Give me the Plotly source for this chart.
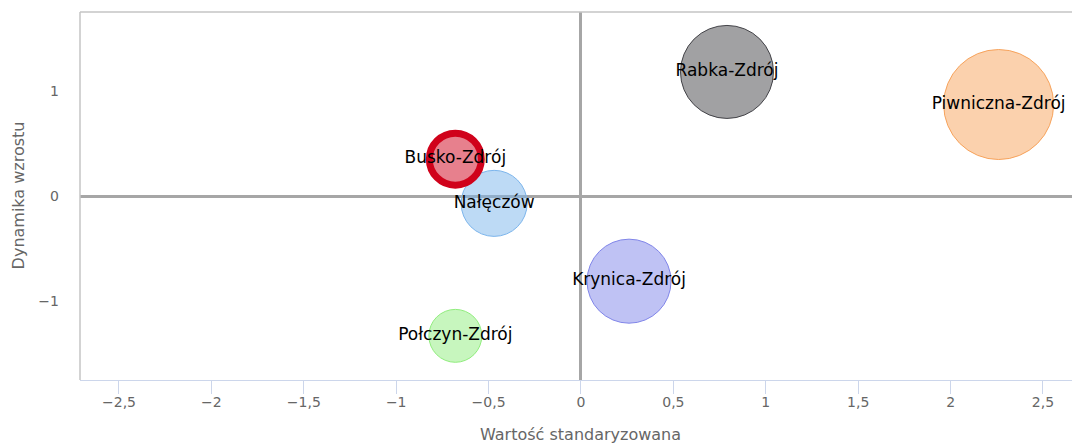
import plotly.graph_objects as go

# Uzdrowiska: wartość standaryzowana vs dynamika wzrostu, wielkość bąbla = wskaźnik skali
miejscowosci = ["Nałęczów", "Rabka-Zdrój", "Połczyn-Zdrój", "Piwniczna-Zdrój", "Krynica-Zdrój", "Busko-Zdrój"]
wartosc_std = [-0.47, 0.79, -0.68, 2.26, 0.26, -0.68]
dynamika = [-0.07, 1.18, -1.33, 0.87, -0.81, 0.35]
wielkosc = [43.6, 86.5, 28.0, 121.0, 70.6, 27.0]

x_ticks = [-2.5, -2, -1.5, -1, -0.5, 0, 0.5, 1, 1.5, 2, 2.5]
y_ticks = [-1, 0, 1]

# Palette: base colour per bubble (fill drawn at 50% opacity)
base_colors = ["#7cb5ec", "#434348", "#90ed7d", "#f7a35c", "#8085e9", "#d0021b"]
line_widths = [1, 1, 1, 1, 1, 7]


def rgba(hex_color, alpha):
    h = hex_color.lstrip("#")
    r, g, b = int(h[0:2], 16), int(h[2:4], 16), int(h[4:6], 16)
    return f"rgba({r},{g},{b},{alpha})"


FONT = "DejaVu Sans, Verdana, sans-serif"

fig = go.Figure()
fig.add_trace(go.Scatter(
    x=wartosc_std,
    y=dynamika,
    mode="markers+text",
    text=miejscowosci,
    textposition="middle center",
    textfont=dict(family=FONT, size=17, color="#000000"),
    marker=dict(
        size=wielkosc,
        sizemode="area",
        sizeref=0.02,
        color=[rgba(c, 0.5) for c in base_colors],
        line=dict(color=base_colors, width=line_widths),
        opacity=1,
    ),
    hoverinfo="text",
    showlegend=False,
))

fig.update_layout(
    width=1072,
    height=445,
    margin=dict(l=80, r=0, t=12, b=65),
    paper_bgcolor="#ffffff",
    plot_bgcolor="#ffffff",
    separators=", ",
    font=dict(family=FONT, color="#666666"),
    xaxis=dict(
        range=[-2.711, 2.657],
        tickvals=x_ticks,
        showgrid=False,
        zeroline=True,
        zerolinecolor="#a6a6a6",
        zerolinewidth=3,
        showline=True,
        linecolor="#ccd6eb",
        linewidth=1,
        ticks="outside",
        ticklen=13,
        tickcolor="#ccd6eb",
        tickwidth=1,
        ticklabelstandoff=-4,
        tickfont=dict(family=FONT, size=14, color="#666666"),
        fixedrange=True,
    ),
    yaxis=dict(
        range=[-1.75, 1.75],
        tickvals=y_ticks,
        showgrid=False,
        zeroline=True,
        zerolinecolor="#a6a6a6",
        zerolinewidth=3,
        showline=False,
        ticks="",
        ticklabelstandoff=20,
        tickfont=dict(family=FONT, size=14, color="#666666"),
        fixedrange=True,
    ),
    shapes=[
        dict(type="line", xref="paper", yref="paper", x0=0, x1=0, y0=0, y1=1,
             line=dict(color="#c4c4c4", width=1.5), layer="above"),
        dict(type="line", xref="paper", yref="paper", x0=0, x1=1, y0=1, y1=1,
             line=dict(color="#c4c4c4", width=1.5), layer="above"),
    ],
    annotations=[
        dict(text="Wartość standaryzowana", xref="paper", yref="paper",
             x=0.505, y=-0.148, xanchor="center", yanchor="middle", showarrow=False,
             font=dict(family=FONT, size=16, color="#666666")),
        dict(text="Dynamika wzrostu", xref="paper", yref="paper",
             x=-0.062, y=0.503, xanchor="center", yanchor="middle", showarrow=False,
             textangle=-90, font=dict(family=FONT, size=16, color="#666666")),
    ],
)

fig.write_html("out.html")
